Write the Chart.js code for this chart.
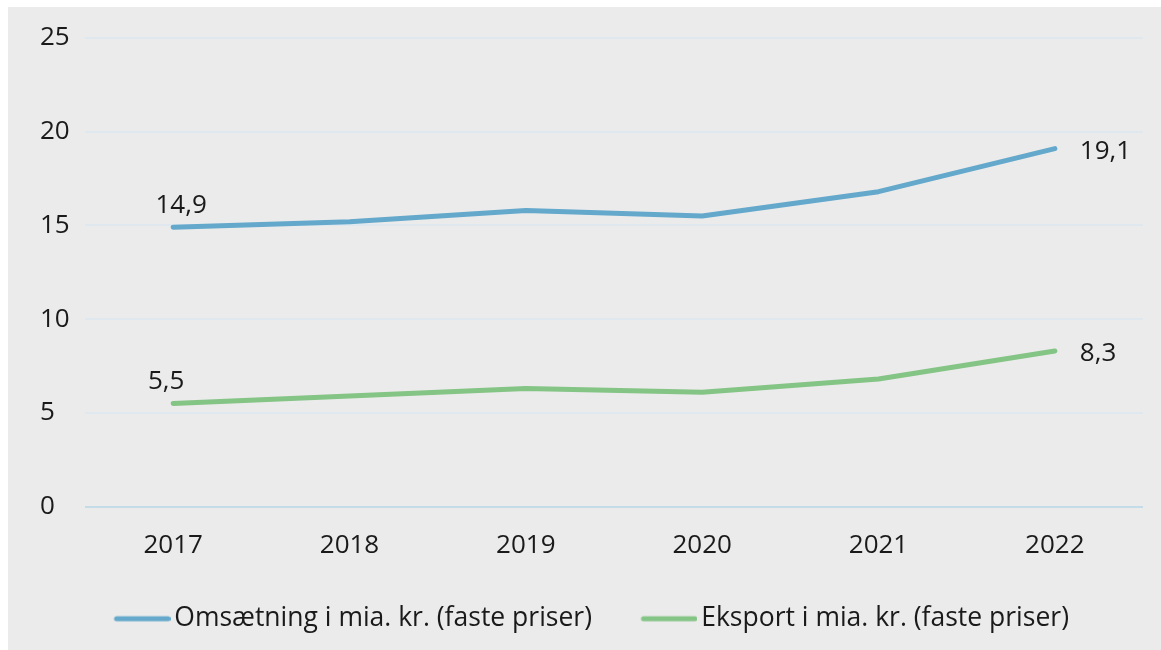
<!DOCTYPE html>
<html>
<head>
<meta charset="utf-8">
<script src="https://cdn.jsdelivr.net/npm/chart.js@4"></script>
<style>
  html, body { margin: 0; padding: 0; background: #ffffff; width: 1161px; height: 650px; overflow: hidden; }
  #panel { position: absolute; left: 8px; top: 7px; width: 1153px; height: 643px; background: #ebebeb; }
  #panel canvas { display: block; }
</style>
</head>
<body>
<div id="panel"><canvas id="c" width="1153" height="643"></canvas></div>
<script>
const categories = ['2017', '2018', '2019', '2020', '2021', '2022'];
const omsaetning = [14.9, 15.2, 15.8, 15.5, 16.8, 19.1];
const eksport = [5.5, 5.9, 6.3, 6.1, 6.8, 8.3];
const seriesNames = ['Omsætning i mia. kr. (faste priser)', 'Eksport i mia. kr. (faste priser)'];
const yTicks = [0, 5, 10, 15, 20, 25];

const FONT = "'Open Sans', 'Noto Sans', sans-serif";
const TEXT = '#1a1a1a';
const FS = 26;
const BLUE = '#64a8cb';
const GREEN = '#84c485';

const fmt = v => v.toFixed(1).replace('.', ',');

function legendLine(color) {
  const cv = document.createElement('canvas');
  cv.width = 66; cv.height = 8;
  const g = cv.getContext('2d');
  g.strokeStyle = color;
  g.lineWidth = 5;
  g.lineCap = 'round';
  g.beginPath();
  g.moveTo(12, 4);
  g.lineTo(63.5, 4);
  g.stroke();
  return cv;
}

const endLabels = {
  id: 'endLabels',
  afterDatasetsDraw(chart) {
    const ctx = chart.ctx;
    ctx.save();
    ctx.font = FS + 'px ' + FONT;
    ctx.fillStyle = TEXT;
    chart.data.datasets.forEach((ds, i) => {
      const meta = chart.getDatasetMeta(i);
      const pts = meta.data;
      if (!pts.length) return;
      const first = pts[0], last = pts[pts.length - 1];
      ctx.textAlign = 'center';
      ctx.textBaseline = 'alphabetic';
      ctx.fillText(fmt(ds.data[0]), first.x + ds.firstLabelDx, first.y - 14);
      ctx.textAlign = 'left';
      ctx.textBaseline = 'middle';
      ctx.fillText(fmt(ds.data[ds.data.length - 1]), last.x + 25, last.y + 3);
    });
    ctx.restore();
  }
};

new Chart(document.getElementById('c'), {
  type: 'line',
  data: {
    labels: categories,
    datasets: [
      {
        label: seriesNames[0],
        data: omsaetning,
        borderColor: BLUE,
        backgroundColor: BLUE,
        borderWidth: 5,
        borderCapStyle: 'round',
        borderJoinStyle: 'round',
        pointRadius: 0,
        pointHoverRadius: 0,
        pointStyle: legendLine(BLUE),
        tension: 0,
        firstLabelDx: 8
      },
      {
        label: seriesNames[1],
        data: eksport,
        borderColor: GREEN,
        backgroundColor: GREEN,
        borderWidth: 5,
        borderCapStyle: 'round',
        borderJoinStyle: 'round',
        pointRadius: 0,
        pointHoverRadius: 0,
        pointStyle: legendLine(GREEN),
        tension: 0,
        firstLabelDx: -7
      }
    ]
  },
  options: {
    responsive: false,
    animation: false,
    devicePixelRatio: 1,
    events: [],
    layout: { padding: { left: 32, right: 18, top: 31, bottom: 8 } },
    plugins: {
      title: { display: false },
      tooltip: { enabled: false },
      legend: {
        position: 'bottom',
        labels: {
          usePointStyle: true,
          boxHeight: 26,
          pointStyleWidth: 47,
          padding: 49,
          color: TEXT,
          font: { family: FONT, size: 26.5 }
        }
      }
    },
    scales: {
      x: {
        offset: true,
        grid: { display: false, drawTicks: false },
        border: { display: false },
        ticks: { color: TEXT, padding: 23, font: { family: FONT, size: FS } },
        afterFit(scale) { scale.height = 50; }
      },
      y: {
        min: yTicks[0],
        max: yTicks[yTicks.length - 1],
        afterBuildTicks(scale) { scale.ticks = yTicks.map(v => ({ value: v })); },
        grid: {
          drawTicks: false,
          lineWidth: 2,
          color: c => (c.tick && c.tick.value === 0) ? '#c3dce8' : '#dfe8ef'
        },
        border: { display: false },
        ticks: { color: TEXT, crossAlign: 'far', padding: 10, font: { family: FONT, size: FS } },
        afterFit(scale) { scale.width = 45; }
      }
    }
  },
  plugins: [endLabels]
});
</script>
</body>
</html>
